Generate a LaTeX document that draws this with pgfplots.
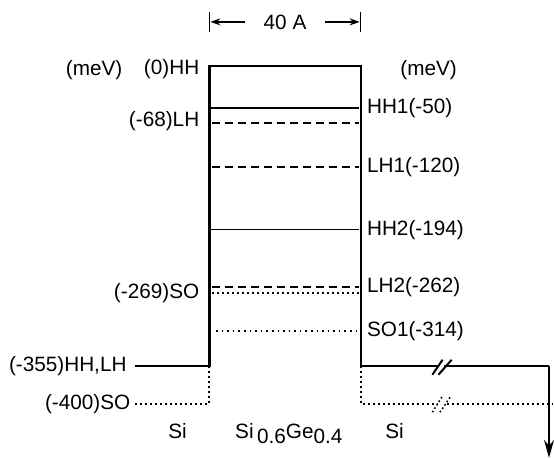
\documentclass[border=0pt]{standalone}
\usepackage{fontspec}
\setmainfont{Liberation Sans}
\usepackage{pgfplots}
\pgfplotsset{compat=1.18}
\usetikzlibrary{arrows.meta}

\begin{document}
\begin{tikzpicture}[font=\fontsize{20.8bp}{24bp}\selectfont]
\begin{axis}[hide axis, scale only axis, width=554bp, height=460bp,
  xmin=-55.26, xmax=90.53, ymin=-464.7, ymax=77.8, clip=false]
\path (rel axis cs:0,0) rectangle (rel axis cs:1,1);
% well and barriers (heavy hole / light hole band edge)
\addplot[black, line width=2.5bp] coordinates {(-19.7,-355) (0,-355) (0,0) (40,0) (40,-355) (89.7,-355)};
\addplot[black, line width=2.2bp, -{Stealth[length=18bp,width=10bp]}] coordinates {(89.7,-355) (89.7,-464)};
% split-off band edge in Si
\addplot[black, line width=2bp, dash pattern=on 2bp off 3bp] coordinates {(-19.5,-400) (0,-400) (0,-355)};
\addplot[black, line width=2bp, dash pattern=on 2bp off 3bp] coordinates {(40,-355) (40,-400) (90.53,-400)};
% levels in the well
\addplot[black, line width=1.2bp] coordinates {(0.5,-50) (39.5,-50)};
\addplot[black, line width=2.2bp, dash pattern=on 8bp off 5bp] coordinates {(0.8,-68) (39.5,-68)};
\addplot[black, line width=1.6bp, dash pattern=on 8bp off 5bp] coordinates {(0.8,-120) (39.5,-120)};
\addplot[black, line width=1.2bp] coordinates {(0.5,-194) (39.5,-194)};
\addplot[black, line width=1.6bp, dash pattern=on 8bp off 5bp] coordinates {(0.8,-262) (39.5,-262)};
\addplot[black, line width=2bp, dash pattern=on 2bp off 3bp] coordinates {(0.8,-269) (39.5,-269)};
\addplot[black, line width=1.6bp, dash pattern=on 1.6bp off 4bp] coordinates {(1.8,-314) (39.5,-314)};
% break marks
\draw[white, line width=4bp] (axis cs:60.4,-355) -- (axis cs:61.9,-355);
\draw[black, line width=2bp] (axis cs:58.9,-365.6) -- (axis cs:61.6,-347.9);
\draw[black, line width=2bp] (axis cs:60.5,-365.6) -- (axis cs:64.0,-347.9);
\draw[white, line width=4bp] (axis cs:60.4,-400) -- (axis cs:61.9,-400);
\draw[black, line width=1.6bp, dash pattern=on 1.6bp off 2.5bp] (axis cs:58.9,-410) -- (axis cs:61.4,-392);
\draw[black, line width=1.6bp, dash pattern=on 1.6bp off 2.5bp] (axis cs:60.9,-410) -- (axis cs:63.6,-392);
% width marker
\draw[black, line width=1.3bp] (axis cs:0,64) -- (axis cs:0,39.5);
\draw[black, line width=1.3bp] (axis cs:40,64) -- (axis cs:40,39.5);
\draw[black, line width=1.3bp, -{Stealth[length=10bp,width=7bp]}] (axis cs:9.5,51.9) -- (axis cs:0.3,51.9);
\draw[black, line width=1.3bp, -{Stealth[length=10bp,width=7bp]}] (axis cs:30.5,51.9) -- (axis cs:39.7,51.9);
\node at (axis cs:20,51.9) {40 A};
% labels
\node at (axis cs:-30.4,-5.5) {(meV)};
\node at (axis cs:57.9,-5.5) {(meV)};
\node[anchor=east, inner sep=0pt] at (axis cs:-2.6,-4.5) {(0)HH};
\node[anchor=east, inner sep=0pt] at (axis cs:-2.6,-66) {(-68)LH};
\node[anchor=east, inner sep=0pt] at (axis cs:-2.6,-269) {(-269)SO};
\node[anchor=east, inner sep=0pt] at (axis cs:-21.8,-355) {(-355)HH,LH};
\node[anchor=east, inner sep=0pt] at (axis cs:-20.8,-400) {(-400)SO};
\node[anchor=west, inner sep=0pt] at (axis cs:41.6,-50) {HH1(-50)};
\node[anchor=west, inner sep=0pt] at (axis cs:41.6,-120) {LH1(-120)};
\node[anchor=west, inner sep=0pt] at (axis cs:41.6,-194) {HH2(-194)};
\node[anchor=west, inner sep=0pt] at (axis cs:41.6,-262) {LH2(-262)};
\node[anchor=west, inner sep=0pt] at (axis cs:41.6,-314) {SO1(-314)};
\node[anchor=base, inner sep=0pt] at (axis cs:-8.4,-441) {Si};
\node[anchor=base, inner sep=0pt] at (axis cs:48.9,-441) {Si};
\node[anchor=base, inner sep=0pt] at (axis cs:21,-441) {Si\,\raisebox{-0.45ex}{0.6}Ge\raisebox{-0.45ex}{0.4}};
\end{axis}
\end{tikzpicture}
\end{document}
